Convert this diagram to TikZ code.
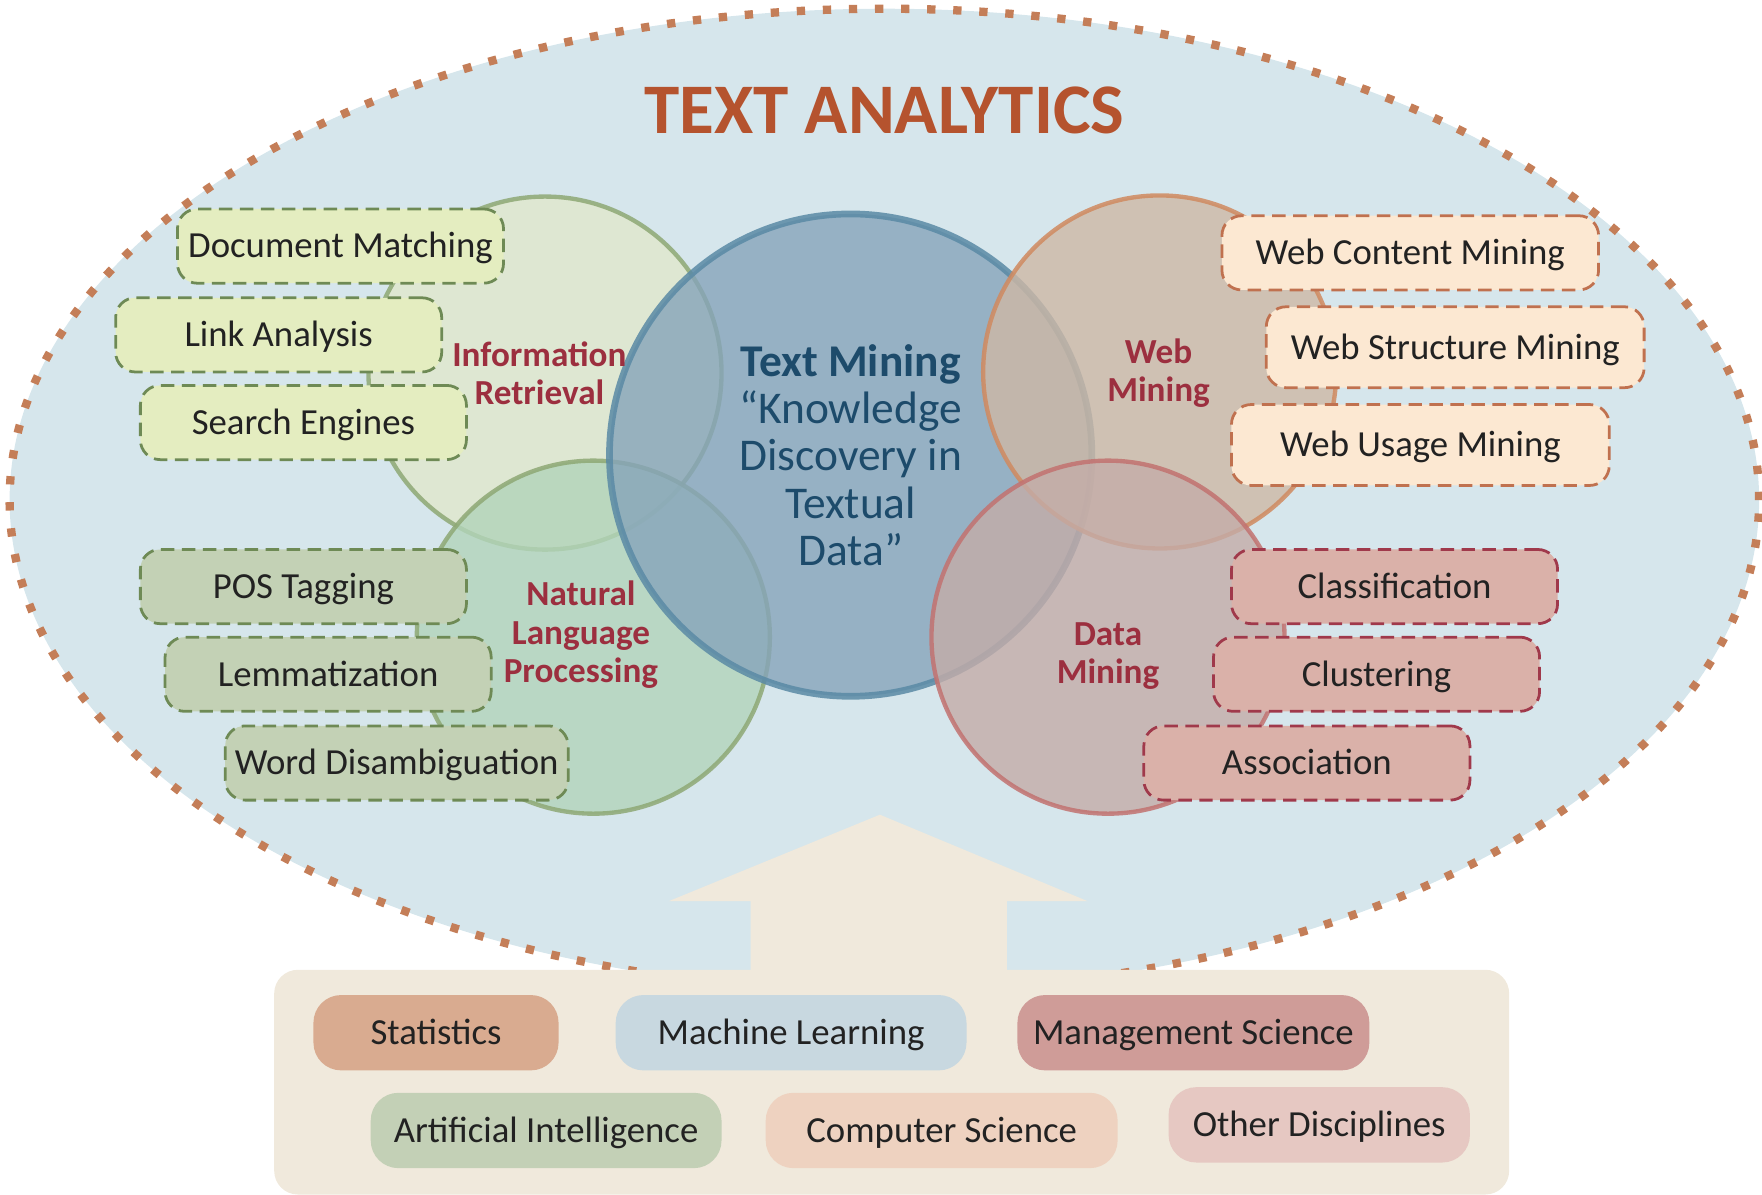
\documentclass[tikz,border=0pt]{standalone}
\usepackage{fontspec}
\setmainfont{Carlito}
\usetikzlibrary{positioning}

\definecolor{skyback}{HTML}{D6E6EC}
\definecolor{dotrim}{HTML}{C47E58}
\definecolor{titlerust}{HTML}{B5532E}
\definecolor{labelred}{HTML}{9C2F3F}
\definecolor{minenavy}{HTML}{1D4B6B}
\definecolor{inkdark}{HTML}{222222}
\definecolor{beige}{HTML}{F0E9DC}
% circles
\definecolor{irfill}{HTML}{E0E8CC}
\definecolor{irline}{HTML}{8EA875}
\definecolor{nlpfill}{HTML}{B2D4BA}
\definecolor{tmfill}{HTML}{86A4BA}
\definecolor{tmline}{HTML}{5A8AA5}
\definecolor{webfill}{HTML}{CEB8A5}
\definecolor{webline}{HTML}{D08A60}
\definecolor{dmfill}{HTML}{C4ACA8}
\definecolor{dmline}{HTML}{C27270}
% boxes
\definecolor{irbox}{HTML}{E4EDC0}
\definecolor{nlpbox}{HTML}{C3D1B5}
\definecolor{greenedge}{HTML}{6E8A55}
\definecolor{webbox}{HTML}{FCE8D2}
\definecolor{webedge}{HTML}{C0714F}
\definecolor{dmbox}{HTML}{DAB1A9}
\definecolor{dmedge}{HTML}{A0394B}
% disciplines
\definecolor{statcol}{HTML}{D9AB90}
\definecolor{mlcol}{HTML}{C8D8E0}
\definecolor{mscol}{HTML}{CF9C98}
\definecolor{aicol}{HTML}{C3D0B6}
\definecolor{cscol}{HTML}{EED2C0}
\definecolor{odcol}{HTML}{E6C8C2}

\tikzstyle{area} = [circle, inner sep=0pt, minimum size=3.14cm, line width=1.1pt, fill opacity=0.8, draw opacity=0.85]
\tikzstyle{arealabel} = [text=labelred, font=\fontsize{8.9}{9.7}\selectfont\bfseries, align=center]
\tikzstyle{topic} = [rectangle, rounded corners=5pt, line width=0.7pt, dash pattern=on 3.4pt off 1.9pt, minimum width=2.9cm, minimum height=0.66cm, inner sep=0pt, text height=8pt, text depth=2pt, text=inkdark]
\tikzstyle{field} = [rectangle, rounded corners=7pt, minimum width=3.12cm, minimum height=0.67cm, inner sep=0pt, text height=8pt, text depth=2pt, text=inkdark]

\begin{document}
\begin{tikzpicture}[
            x = 0.01cm, y = -0.01cm, % pixel grid, y pointing down
            font = \fontsize{9.3}{11}\selectfont
        ]
        \useasboundingbox (0,0) rectangle (1568,1063);

        % background oval
        \draw[fill=skyback, draw=dotrim, line width=2.1pt, dash pattern=on 2.1pt off 4.5pt]
            (787,445) ellipse [x radius=7.78cm, y radius=4.37cm];
        \node[text=titlerust, font=\fontsize{18}{20}\selectfont\bfseries] (title) at (787,98) {TEXT ANALYTICS};

        % base and arrow
        \fill[beige] (783,725) -- (968,802) -- (896,802) -- (896,870) -- (668,870) -- (668,802) -- (595,802) -- cycle;
        \fill[beige, rounded corners=6pt] (244,863) rectangle (1343,1063);

        % circles
        \node[area, fill=irfill, draw=irline] (ir) at (485,332) {};
        \node[area, fill=nlpfill, draw=irline] (nlp) at (528,567) {};
        \node[area, fill=tmfill, draw=tmline, line width=1.7pt, minimum size=4.29cm] (tm) at (757,405) {};
        \node[area, fill=webfill, draw=webline] (web) at (1032,331) {};
        \node[area, fill=dmfill, draw=dmline] (dm) at (986,567) {};

        \node[arealabel] (irlabel) at (480,332) {Information\\Retrieval};
        \node[arealabel] (nlplabel) at (517,565) {Natural\\Language\\Processing};
        \node[arealabel] (weblabel) at (1031,332) {Web\\Mining};
        \node[arealabel] (dmlabel) at (986,584) {Data\\Mining};
        \node[text=minenavy, align=center, font=\fontsize{11.5}{12}\selectfont] (tmlabel) at (757,405)
            {\textbf{Text Mining}\\“Knowledge\\Discovery in\\Textual\\Data”};

        % topic boxes
        \node[topic, fill=irbox, draw=greenedge] (docmatch) at (303,219) {Document Matching};
        \node[topic, fill=irbox, draw=greenedge] (linkan) at (248,298) {Link Analysis};
        \node[topic, fill=irbox, draw=greenedge] (search) at (270,376) {Search Engines};

        \node[topic, fill=nlpbox, draw=greenedge] (postag) at (270,522) {POS Tagging};
        \node[topic, fill=nlpbox, draw=greenedge] (lemma) at (292,600) {Lemmatization};
        \node[topic, fill=nlpbox, draw=greenedge, minimum width=3.05cm] (wordis) at (353,679) {Word Disambiguation};

        \node[topic, fill=webbox, draw=webedge, minimum width=3.35cm] (webcont) at (1255,225) {Web Content Mining};
        \node[topic, fill=webbox, draw=webedge, minimum width=3.36cm, minimum height=0.72cm] (webstruc) at (1295,309) {Web Structure Mining};
        \node[topic, fill=webbox, draw=webedge, minimum width=3.36cm, minimum height=0.72cm] (webusage) at (1264,396) {Web Usage Mining};

        \node[topic, fill=dmbox, draw=dmedge] (classif) at (1241,522) {Classification};
        \node[topic, fill=dmbox, draw=dmedge] (cluster) at (1225,600) {Clustering};
        \node[topic, fill=dmbox, draw=dmedge] (assoc) at (1163,679) {Association};

        % disciplines
        \node[field, fill=statcol, minimum width=2.18cm] (stats) at (388,919) {Statistics};
        \node[field, fill=mlcol] (mlearn) at (704,919) {Machine Learning};
        \node[field, fill=mscol, minimum width=3.13cm] (mgmt) at (1062,919) {Management Science};
        \node[field, fill=aicol] (artint) at (486,1006) {Artificial Intelligence};
        \node[field, fill=cscol, minimum width=3.13cm] (compsci) at (838,1006) {Computer Science};
        \node[field, fill=odcol, minimum width=2.68cm] (otherd) at (1174,1001) {Other Disciplines};

    \end{tikzpicture}
\end{document}
